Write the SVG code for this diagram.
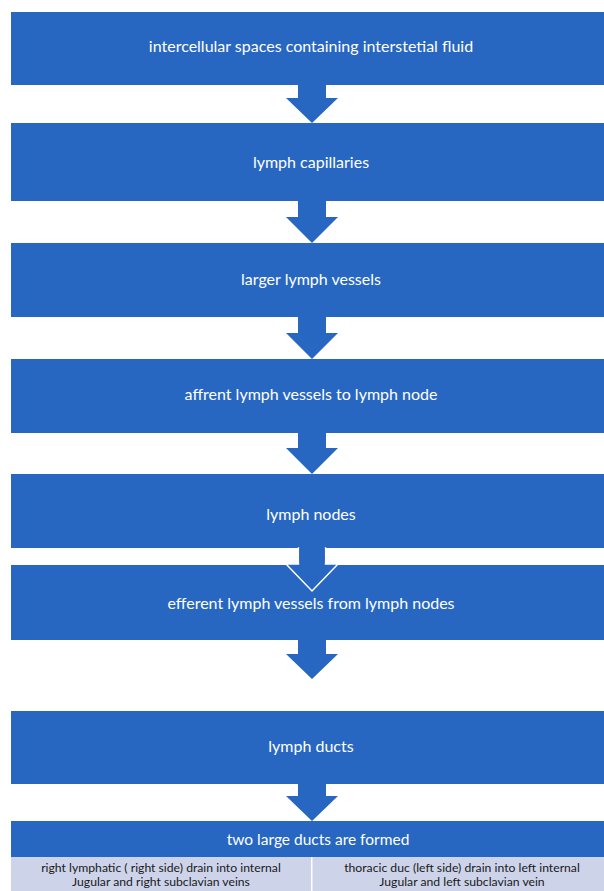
<svg xmlns="http://www.w3.org/2000/svg" width="604" height="891" viewBox="0 0 604 891">
<style>
.box{fill:#2767c1}
.lt{fill:#cdd4ea}
.t{font-family:Lato,"Open Sans","Liberation Sans",sans-serif;fill:#ffffff;font-size:16px;text-anchor:middle}
.big{font-size:15.5px}
.s{font-family:Lato,"Open Sans","Liberation Sans",sans-serif;fill:#1a1a1a;font-size:12.2px;text-anchor:middle}
.arr{fill:#2767c1}
.arrw{fill:#2767c1;stroke:#ffffff;stroke-width:1.5}
</style>
<rect width="604" height="891" fill="#ffffff"/>
<g id="n1"><rect class="box" x="11" y="12" width="603" height="73"/><text class="t" x="311" y="52">intercellular spaces containing interstetial fluid</text></g>
<g id="n2"><rect class="box" x="11" y="123" width="603" height="78"/><text class="t" x="311" y="168">lymph capillaries</text></g>
<g id="n3"><rect class="box" x="11" y="243" width="603" height="74"/><text class="t" x="311" y="285">larger lymph vessels</text></g>
<g id="n4"><rect class="box" x="11" y="359" width="603" height="74"/><text class="t" x="311" y="400">affrent lymph vessels to lymph node</text></g>
<g id="n5"><rect class="box" x="11" y="474" width="603" height="74"/><text class="t" x="311" y="520">lymph nodes</text></g>
<g id="n6"><rect class="box" x="11" y="565" width="603" height="75"/><text class="t" x="311" y="609">efferent lymph vessels from lymph nodes</text></g>
<g id="n7"><rect class="box" x="11" y="711" width="603" height="73"/><text class="t" x="311" y="752">lymph ducts</text></g>
<g id="n8"><rect class="box" x="11" y="821" width="603" height="36"/><text class="t big" x="318" y="845">two large ducts are formed</text></g>
<g id="n9"><rect class="lt" x="11" y="857" width="300" height="34"/><text class="s" x="161" y="871.5">right lymphatic  ( right side) drain into internal</text><text class="s" x="161" y="886.4">Jugular and right subclavian veins</text></g>
<g id="n10"><rect class="lt" x="312.5" y="857" width="301" height="34"/><text class="s" x="462" y="871.5">thoracic duc (left side) drain into left internal</text><text class="s" x="462" y="886.4">Jugular and left subclavian vein</text></g>
<g id="connectors">
<polygon class="arr" points="298,85 326,85 326,98 338,98 312,123 286,98 298,98"/>
<polygon class="arr" points="298,201 326,201 326,217 338,217 312,243 286,217 298,217"/>
<polygon class="arr" points="298,317 326,317 326,333 338,333 312,359 286,333 298,333"/>
<polygon class="arr" points="298,433 326,433 326,448 338,448 312,474 286,448 298,448"/>
<polygon class="arrw" points="298.5,548 325.5,548 325.5,564 338,564 312,591 286,564 298.5,564"/>
<rect class="box" x="299.2" y="546" width="25.6" height="17"/>
<polygon class="arr" points="298,640 326,640 326,654 338,654 312,679 286,654 298,654"/>
<polygon class="arr" points="298,784 326,784 326,796 338,796 312,821 286,796 298,796"/>
</g>
</svg>
